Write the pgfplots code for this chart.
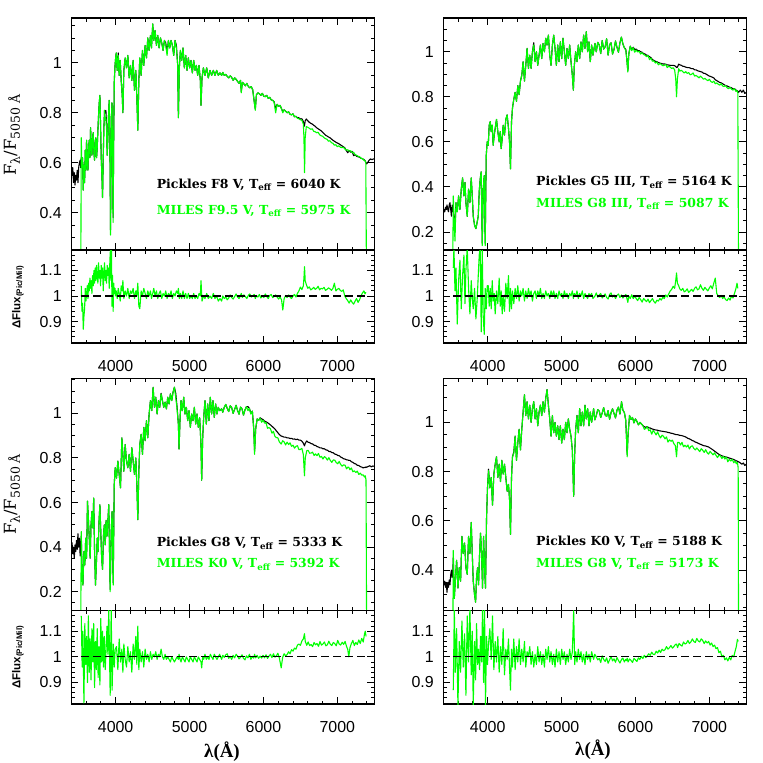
\documentclass[border=0pt]{standalone}
\usepackage{pgfplots}
\usepackage{pgfplotstable}
\pgfplotsset{compat=1.18}
\usepackage{fontspec}
\setmainfont{Liberation Sans}
\newfontfamily\serifb{Liberation Serif}
\newfontfamily\legf{DejaVu Serif}
\definecolor{mgreen}{RGB}{0,255,0}

\pgfplotstableread{
x g b r
3400 nan 0.59 nan
3410 nan 0.55 nan
3420 nan 0.58 nan
3430 nan 0.52 nan
3440 nan 0.56 nan
3450 nan 0.51 nan
3460 nan 0.55 nan
3470 nan 0.53 nan
3480 nan 0.57 nan
3490 nan 0.52 nan
3500 nan 0.58 nan
3510 nan 0.60 nan
3520 nan 0.61 nan
3528 0.10 0.58 nan
3535 0.70 0.62 1.04
3544 0.58 0.58 0.94
3553 0.62 0.62 0.97
3562 0.49 0.49 0.87
3571 0.59 0.59 0.92
3580 0.52 0.52 0.95
3589 0.65 0.65 1.03
3598 0.57 0.57 0.98
3607 0.69 0.69 1.01
3616 0.60 0.60 1.04
3625 0.57 0.57 0.99
3634 0.66 0.66 1.05
3643 0.69 0.69 1.02
3652 0.62 0.62 1.07
3661 0.74 0.74 1.03
3670 0.66 0.66 1.06
3679 0.63 0.63 1.01
3688 0.70 0.70 1.08
3697 0.72 0.72 1.04
3706 0.64 0.64 1.10
3715 0.61 0.61 1.05
3724 0.68 0.68 1.11
3733 0.70 0.70 1.06
3742 0.62 0.62 1.12
3751 0.66 0.66 1.08
3760 0.73 0.73 1.05
3769 0.79 0.79 1.13
3778 0.84 0.84 1.07
3787 0.87 0.87 1.10
3796 0.75 0.75 1.04
3805 0.62 0.62 1.12
3814 0.55 0.55 1.07
3823 0.46 0.46 1.11
3832 0.62 0.62 1.02
3841 0.74 0.74 1.09
3850 0.81 0.81 1.13
3859 0.77 0.80 1.06
3868 0.78 0.81 1.10
3877 0.73 0.75 1.05
3886 0.63 0.63 1.12
3895 0.70 0.70 1.08
3904 0.79 0.79 1.11
3913 0.85 0.85 1.03
3922 0.70 0.70 1.14
3931 0.31 0.33 1.19
3938 0.60 0.60 1.06
3944 0.78 0.78 1.19
3950 0.84 0.84 0.96
3958 0.63 0.63 1.08
3966 0.36 0.38 0.94
3974 0.70 0.70 1.05
3982 0.93 0.93 1.01
3992 0.99 0.99 1.03
4000 1.02 1.02 1.00
4008 1.04 1.04 1.02
4021 0.97 0.97 0.99
4035 1.03 1.04 1.03
4048 0.95 0.95 1.01
4062 1.01 1.01 0.98
4075 0.93 0.93 1.04
4089 0.87 0.87 1.02
4098 0.80 0.80 1.06
4111 0.97 0.97 0.99
4129 1.02 1.02 1.02
4147 0.98 0.98 1.00
4165 1.03 1.03 1.03
4183 0.94 0.94 0.99
4201 0.99 0.99 1.02
4219 0.93 0.93 1.01
4237 1.01 1.01 1.03
4255 0.89 0.89 0.99
4273 0.97 0.97 1.02
4287 0.86 0.86 1.00
4300 0.73 0.73 1.05
4314 0.93 0.93 0.96
4327 1.02 1.02 0.95
4345 0.95 0.95 1.02
4363 1.05 1.05 1.00
4381 0.99 0.99 1.03
4399 1.07 1.07 1.01
4417 1.02 1.02 0.99
4435 1.10 1.10 1.02
4453 1.05 1.05 1.00
4471 1.11 1.11 1.02
4485 1.06 1.06 0.99
4502 1.156 1.156 1.01
4516 1.09 1.09 1.03
4534 1.13 1.13 1.00
4552 1.07 1.07 1.02
4570 1.11 1.11 0.99
4588 1.06 1.06 1.01
4606 1.10 1.10 1.02
4624 1.08 1.08 0.99
4642 1.05 1.05 1.01
4660 1.09 1.09 1.00
4678 1.07 1.08 1.02
4696 1.03 1.04 0.99
4714 1.09 1.09 1.01
4732 1.06 1.06 1.00
4750 1.09 1.09 1.02
4768 1.07 1.07 0.99
4786 1.03 1.03 1.01
4804 1.09 1.09 1.00
4822 1.06 1.07 1.02
4840 0.99 0.99 1.01
4849 0.78 0.78 1.03
4862 0.98 0.98 0.99
4876 1.05 1.05 1.01
4894 1.01 1.01 0.99
4912 1.06 1.06 1.02
4930 0.98 0.98 0.99
4948 1.03 1.03 1.01
4966 0.97 0.97 0.99
4984 1.02 1.02 1.01
5002 0.98 0.98 0.99
5020 1.01 1.01 1.00
5038 0.96 0.96 0.99
5056 1.01 1.01 1.01
5074 0.97 0.97 0.99
5092 0.99 0.99 1.00
5110 0.95 0.95 0.99
5128 0.99 0.99 1.01
5146 0.93 0.93 1.00
5155 0.83 0.83 1.06
5169 0.94 0.94 0.98
5187 0.98 0.98 1.00
5209 0.95 0.95 0.99
5232 0.98 0.98 1.01
5254 0.94 0.94 0.99
5277 0.97 0.97 1.00
5299 0.95 0.95 0.99
5322 0.97 0.97 1.01
5344 0.95 0.95 0.99
5367 0.97 0.97 1.00
5389 0.95 0.95 0.98
5412 0.96 0.96 0.99
5434 0.95 0.95 0.98
5450 0.962 0.962 1.0
5470 0.950 0.950 0.99
5490 0.954 0.954 0.996
5510 0.946 0.946 0.985
5530 0.940 0.940 0.992
5550 0.948 0.948 1.004
5570 0.942 0.942 0.994
5590 0.930 0.930 0.988
5610 0.940 0.940 0.998
5630 0.934 0.934 1.008
5650 0.926 0.926 0.996
5670 0.918 0.918 0.99
5690 0.930 0.930 1.002
5700 0.880 0.885 1.01
5715 0.922 0.922 0.994
5735 0.916 0.916 1.004
5755 0.908 0.908 0.998
5775 0.918 0.918 0.99
5795 0.906 0.906 1.002
5815 0.900 0.900 1.008
5835 0.905 0.905 0.996
5855 0.892 0.892 1.0
5875 0.845 0.845 1.006
5890 0.810 0.815 0.99
5905 0.872 0.872 1.002
5925 0.880 0.880 0.996
5945 0.876 0.876 1.006
5965 0.870 0.870 0.992
5985 0.878 0.878 1.0
6005 0.866 0.866 0.994
6025 0.864 0.866 1.008
6045 0.870 0.870 0.998
6065 0.858 0.858 0.99
6085 0.862 0.862 1.002
6105 0.852 0.852 1.006
6125 0.850 0.850 0.994
6145 0.842 0.844 0.998
6165 0.800 0.815 1.004
6185 0.834 0.834 0.996
6205 0.826 0.826 0.988
6225 0.830 0.830 0.996
6245 0.816 0.816 0.985
6262 0.800 0.805 0.945
6280 0.812 0.812 0.99
6300 0.806 0.806 1.002
6320 0.800 0.800 0.994
6340 0.804 0.804 1.004
6360 0.794 0.794 0.996
6380 0.792 0.792 0.99
6400 0.796 0.796 1.0
6420 0.784 0.784 1.006
6440 0.786 0.786 0.996
6460 0.778 0.780 1.01
6480 0.776 0.780 1.02
6500 0.772 0.775 1.035
6520 0.770 0.776 1.025
6540 0.755 0.765 1.04
6548 0.700 0.745 1.07
6556 0.560 0.750 1.115
6565 0.700 0.768 1.06
6580 0.745 0.775 1.045
6600 0.742 0.768 1.03
6620 0.738 0.762 1.036
6640 0.734 0.758 1.024
6660 0.736 0.755 1.028
6680 0.726 0.750 1.034
6700 0.724 0.746 1.026
6720 0.720 0.740 1.03
6740 0.722 0.736 1.038
6760 0.712 0.732 1.024
6780 0.708 0.728 1.03
6800 0.706 0.722 1.028
6820 0.700 0.716 1.034
6840 0.696 0.710 1.022
6860 0.694 0.707 1.026
6880 0.686 0.703 1.032
6900 0.688 0.700 1.028
6920 0.680 0.695 1.022
6940 0.678 0.690 1.03
6960 0.670 0.686 1.05
6980 0.672 0.682 1.02
7000 0.664 0.679 1.026
7020 0.668 0.676 1.03
7040 0.662 0.672 1.022
7060 0.660 0.668 1.018
7080 0.662 0.664 1.024
7100 0.656 0.660 1.00
7120 0.650 0.650 0.99
7140 0.652 0.640 0.982
7160 0.646 0.648 0.972
7180 0.648 0.642 0.985
7200 0.640 0.645 0.975
7220 0.642 0.628 0.968
7240 0.632 0.632 0.98
7260 0.630 0.626 0.99
7280 0.626 0.624 0.975
7300 0.624 0.622 0.985
7320 0.618 0.618 1.0
7340 0.616 0.616 1.012
7360 0.610 0.612 1.02
7375 0.608 0.608 1.008
7385 0.600 0.602 1.015
7395 0.10 0.595 nan
7410 nan 0.60 nan
7430 nan 0.61 nan
7450 nan 0.615 nan
7470 nan 0.612 nan
7490 nan 0.615 nan
7500 nan 0.615 nan
}\tA

\pgfplotstableread{
x g b r
3400 nan 0.28 nan
3410 nan 0.30 nan
3420 nan 0.29 nan
3430 nan 0.31 nan
3440 nan 0.30 nan
3450 nan 0.32 nan
3460 nan 0.30 nan
3470 nan 0.29 nan
3480 nan 0.32 nan
3490 nan 0.33 nan
3500 nan 0.30 nan
3510 nan 0.27 nan
3520 nan 0.32 nan
3528 0.05 0.29 nan
3535 0.36 0.30 1.11
3544 0.27 0.27 1.19
3558 0.16 0.20 1.02
3571 0.33 0.33 1.11
3589 0.29 0.29 0.89
3607 0.36 0.36 1.06
3625 0.30 0.30 1.14
3643 0.39 0.39 0.95
3661 0.44 0.44 1.08
3679 0.36 0.36 1.16
3693 0.42 0.42 0.97
3706 0.33 0.33 1.10
3724 0.27 0.27 1.19
3742 0.39 0.39 1.03
3760 0.33 0.33 0.93
3778 0.44 0.44 1.06
3792 0.36 0.36 0.99
3805 0.27 0.27 0.95
3823 0.23 0.23 1.03
3841 0.215 0.215 0.91
3859 0.245 0.245 0.99
3873 0.27 0.27 1.08
3886 0.38 0.38 1.16
3900 0.437 0.437 1.19
3913 0.467 0.467 0.86
3927 0.14 0.15 1.19
3940 0.39 0.39 0.92
3954 0.45 0.45 0.85
3967 0.14 0.15 1.03
3981 0.54 0.54 0.95
3994 0.60 0.60 1.04
4008 0.585 0.585 1.04
4021 0.674 0.674 0.96
4035 0.69 0.69 1.03
4048 0.645 0.645 0.95
4062 0.674 0.674 1.06
4075 0.585 0.585 0.98
4089 0.63 0.63 1.01
4102 0.66 0.66 0.93
4120 0.70 0.70 1.02
4138 0.645 0.645 0.97
4156 0.60 0.60 1.07
4170 0.645 0.645 0.96
4183 0.57 0.57 1.02
4197 0.615 0.615 0.93
4210 0.674 0.674 1.00
4228 0.63 0.63 0.94
4246 0.70 0.70 1.05
4264 0.72 0.72 0.99
4282 0.66 0.66 1.08
4296 0.60 0.60 0.94
4309 0.48 0.48 1.03
4323 0.69 0.69 0.95
4336 0.75 0.75 1.02
4354 0.79 0.79 0.97
4372 0.82 0.82 1.03
4390 0.78 0.78 0.99
4408 0.85 0.85 1.04
4426 0.81 0.81 0.98
4444 0.87 0.87 1.02
4462 0.896 0.896 1.00
4480 0.956 0.956 1.03
4498 0.87 0.87 0.98
4516 0.94 0.94 1.02
4534 1.015 1.015 0.99
4552 0.926 0.926 1.03
4570 0.985 0.985 1.00
4588 0.926 0.926 1.02
4606 1.00 1.00 0.98
4624 1.03 1.04 1.01
4642 0.956 0.956 1.02
4660 1.00 1.00 0.99
4678 0.94 0.94 1.02
4696 0.985 0.985 1.00
4714 1.03 1.03 1.03
4732 0.97 0.97 0.99
4750 1.037 1.037 1.01
4768 1.00 1.00 0.99
4786 1.06 1.06 1.02
4804 1.03 1.03 1.00
4822 1.074 1.074 1.01
4840 0.985 0.985 0.99
4858 0.94 0.94 1.02
4876 1.03 1.03 1.00
4894 1.074 1.074 1.02
4912 1.015 1.015 0.99
4930 0.94 0.94 1.01
4948 1.03 1.03 0.99
4966 0.956 0.956 1.02
4984 1.044 1.044 1.00
5002 0.97 0.97 1.01
5020 1.06 1.06 0.99
5038 1.00 1.00 1.02
5056 0.94 0.94 1.00
5074 1.015 1.015 1.01
5092 0.97 0.97 0.99
5110 1.03 1.03 1.01
5128 0.956 0.956 1.00
5146 0.896 0.896 1.02
5160 0.83 0.83 0.99
5173 0.94 0.94 1.01
5191 1.00 1.00 1.00
5209 0.956 0.956 1.02
5227 1.03 1.03 0.99
5245 0.97 0.97 1.01
5263 1.044 1.044 1.00
5281 1.00 1.00 1.02
5299 1.074 1.074 0.99
5317 1.015 1.015 1.01
5335 1.089 1.089 1.00
5353 1.00 1.00 0.99
5371 1.044 1.044 1.01
5389 0.956 0.956 1.00
5407 1.03 1.03 1.01
5425 0.985 0.985 0.99
5452 1.037 1.037 1.00
5470 1.000 1.000 1.012
5490 1.042 1.042 0.995
5510 1.030 1.030 1.004
5530 0.992 0.992 1.010
5550 1.050 1.050 0.992
5570 1.012 1.012 1.0
5590 1.022 1.022 1.008
5610 1.058 1.058 0.994
5630 0.985 0.985 0.988
5650 1.032 1.032 1.006
5670 1.040 1.040 1.012
5690 0.990 0.990 0.996
5710 1.010 1.010 1.004
5730 1.048 1.048 0.99
5750 1.020 1.020 1.002
5770 0.998 0.998 1.008
5790 1.040 1.040 0.994
5810 1.065 1.065 1.004
5830 1.035 1.035 0.992
5850 1.018 1.018 1.0
5870 1.005 1.010 1.006
5885 0.960 0.960 0.99
5897 0.910 0.915 0.975
5910 0.990 0.990 1.0
5930 1.025 1.025 0.99
5950 1.005 1.010 1.005
5970 1.018 1.020 0.99
5990 0.998 1.010 1.0
6010 1.008 1.012 0.99
6030 0.999 1.005 0.982
6050 1.003 1.005 0.994
6070 0.990 1.000 0.986
6090 0.996 0.998 0.976
6110 0.988 0.992 0.99
6130 0.985 0.990 0.984
6150 0.978 0.985 0.978
6170 0.984 0.984 0.988
6190 0.965 0.978 0.974
6210 0.972 0.974 0.982
6230 0.958 0.965 0.99
6250 0.960 0.962 0.978
6270 0.950 0.958 0.972
6290 0.955 0.956 0.984
6310 0.942 0.952 0.98
6330 0.948 0.950 0.99
6350 0.944 0.948 0.984
6370 0.938 0.946 0.995
6390 0.940 0.946 0.99
6410 0.944 0.945 1.004
6430 0.930 0.942 0.996
6450 0.936 0.941 1.008
6470 0.932 0.940 1.02
6490 0.926 0.940 1.026
6510 0.929 0.940 1.038
6530 0.920 0.938 1.03
6545 0.880 0.935 1.06
6556 0.800 0.930 1.09
6568 0.880 0.932 1.05
6585 0.925 0.945 1.04
6600 0.914 0.942 1.028
6620 0.918 0.940 1.022
6640 0.912 0.936 1.03
6660 0.906 0.935 1.016
6680 0.912 0.932 1.02
6700 0.904 0.930 1.028
6720 0.908 0.930 1.014
6740 0.898 0.928 1.02
6760 0.900 0.925 1.026
6780 0.906 0.925 1.018
6800 0.892 0.920 1.03
6820 0.895 0.920 1.036
6840 0.890 0.916 1.024
6860 0.884 0.914 1.028
6880 0.892 0.912 1.044
6900 0.886 0.910 1.03
6920 0.878 0.905 1.022
6940 0.882 0.904 1.034
6960 0.876 0.900 1.026
6980 0.872 0.896 1.02
7000 0.878 0.892 1.032
7020 0.868 0.890 1.04
7040 0.864 0.887 1.028
7060 0.870 0.884 1.05
7080 0.858 0.876 1.07
7100 0.862 0.872 1.01
7120 0.856 0.868 1.0
7140 0.852 0.864 0.994
7160 0.858 0.862 1.002
7180 0.848 0.858 0.99
7200 0.846 0.854 0.996
7220 0.850 0.850 0.986
7240 0.840 0.848 0.982
7260 0.836 0.845 0.992
7280 0.842 0.842 0.984
7300 0.834 0.840 1.0
7320 0.830 0.835 0.992
7340 0.836 0.836 1.01
7360 0.824 0.830 1.03
7375 0.828 0.828 1.05
7385 0.818 0.825 1.03
7395 0.05 0.82 nan
7420 nan 0.83 nan
7440 nan 0.82 nan
7460 nan 0.83 nan
7480 nan 0.815 nan
7500 nan 0.82 nan
}\tB

\pgfplotstableread{
x g b r
3400 nan 0.40 nan
3410 nan 0.42 nan
3420 nan 0.37 nan
3430 nan 0.40 nan
3440 nan 0.35 nan
3450 nan 0.41 nan
3460 nan 0.38 nan
3470 nan 0.43 nan
3480 nan 0.39 nan
3490 nan 0.46 nan
3500 nan 0.40 nan
3510 nan 0.44 nan
3520 nan 0.36 nan
3528 0.05 0.40 nan
3535 0.47 0.45 1.16
3547 0.26 0.26 0.96
3557 0.23 0.23 1.10
3571 0.38 0.38 0.82
3583 0.32 0.32 1.13
3595 0.44 0.44 0.97
3607 0.35 0.35 1.08
3619 0.606 0.606 0.90
3631 0.53 0.53 1.16
3643 0.44 0.44 0.94
3655 0.35 0.35 1.07
3667 0.50 0.50 0.91
3679 0.56 0.56 1.11
3691 0.486 0.486 0.98
3703 0.62 0.62 1.13
3715 0.38 0.38 0.88
3727 0.23 0.23 1.06
3739 0.32 0.32 0.95
3751 0.44 0.44 1.11
3763 0.38 0.38 0.92
3775 0.516 0.516 1.04
3787 0.59 0.59 0.89
3799 0.47 0.47 1.15
3811 0.35 0.35 0.98
3823 0.30 0.30 1.10
3835 0.45 0.45 0.96
3847 0.50 0.50 1.08
3859 0.41 0.41 0.95
3871 0.52 0.52 1.03
3883 0.45 0.45 1.12
3895 0.516 0.516 1.01
3907 0.59 0.59 1.19
3926 0.20 0.21 0.85
3940 0.47 0.47 1.19
3952 0.56 0.56 0.87
3967 0.23 0.24 1.05
3981 0.68 0.68 0.96
3994 0.756 0.756 1.03
4012 0.71 0.71 1.04
4030 0.786 0.786 0.95
4048 0.726 0.726 1.07
4066 0.666 0.666 0.98
4084 0.89 0.89 1.03
4098 0.816 0.816 0.94
4111 0.74 0.74 1.05
4129 0.86 0.86 0.99
4147 0.786 0.786 0.96
4165 0.756 0.756 1.04
4183 0.816 0.816 0.98
4201 0.74 0.74 1.02
4219 0.846 0.846 0.94
4237 0.786 0.786 1.05
4255 0.726 0.726 0.99
4273 0.80 0.80 1.08
4287 0.68 0.68 0.97
4300 0.523 0.523 1.12
4314 0.74 0.74 0.95
4327 0.86 0.86 1.03
4345 0.906 0.906 0.98
4363 0.816 0.816 1.02
4381 0.937 0.937 0.96
4399 0.877 0.877 1.03
4417 0.967 0.967 0.99
4435 0.89 0.89 1.01
4453 0.997 0.997 0.98
4471 1.057 1.057 1.02
4489 1.012 1.012 0.99
4507 1.117 1.117 1.01
4525 1.027 1.027 1.00
4543 1.072 1.072 1.02
4561 0.997 0.997 0.99
4579 1.057 1.057 1.01
4597 1.027 1.027 1.00
4615 1.087 1.09 1.03
4633 1.057 1.057 1.00
4651 1.027 1.027 0.99
4669 1.05 1.05 1.01
4687 1.02 1.02 0.99
4705 1.072 1.072 1.00
4723 1.042 1.042 0.99
4741 1.087 1.087 0.98
4759 1.057 1.057 1.00
4777 1.095 1.095 0.99
4795 1.117 1.117 0.98
4813 1.072 1.09 0.99
4831 1.02 1.03 1.00
4849 0.95 0.95 0.99
4858 0.84 0.84 1.01
4872 0.98 0.98 0.99
4885 1.057 1.057 0.98
4903 1.012 1.012 1.00
4921 1.072 1.072 0.99
4939 0.997 0.997 0.98
4957 1.027 1.027 1.00
4975 0.967 0.967 0.99
4993 1.012 1.012 0.98
5011 0.937 0.937 1.00
5029 0.997 0.997 0.99
5047 0.967 0.967 0.98
5065 1.027 1.027 1.00
5083 0.952 0.952 0.99
5101 0.997 0.997 0.98
5119 0.937 0.937 1.00
5137 0.98 0.98 0.99
5155 0.86 0.86 0.98
5164 0.70 0.70 0.957
5178 0.89 0.89 1.00
5191 0.98 0.98 0.99
5209 1.057 1.057 1.01
5227 0.952 0.952 0.99
5245 1.042 1.042 1.00
5263 0.967 0.967 0.99
5281 1.072 1.072 1.01
5299 0.997 0.997 1.00
5317 1.057 1.057 0.99
5335 0.982 0.982 1.01
5353 1.042 1.042 1.00
5371 0.997 0.997 0.99
5389 1.027 1.027 1.00
5407 1.012 1.012 1.01
5434 1.02 1.02 0.99
5450 1.005 1.005 1.006
5470 1.027 1.027 0.998
5490 1.040 1.040 1.008
5510 1.022 1.022 1.012
5530 1.008 1.008 0.994
5550 1.034 1.034 1.002
5570 1.026 1.026 0.99
5590 1.000 1.000 1.006
5610 1.018 1.018 0.996
5630 1.036 1.036 1.01
5650 1.012 1.012 1.003
5670 0.996 0.996 0.992
5690 1.028 1.028 0.999
5710 1.020 1.020 1.008
5730 0.992 0.992 0.994
5750 1.015 1.015 0.988
5770 1.030 1.030 1.004
5790 1.012 1.030 0.996
5810 1.022 1.022 1.01
5830 0.996 1.000 0.99
5850 1.010 1.010 1.002
5868 0.930 0.935 0.995
5880 0.816 0.830 1.01
5895 0.930 0.930 0.996
5915 0.975 0.975 1.006
5935 0.968 0.968 0.994
5955 0.978 0.980 1.003
5975 0.960 0.975 0.995
5995 0.970 0.972 1.006
6015 0.956 0.965 0.996
6035 0.958 0.962 1.008
6055 0.933 0.958 0.994
6075 0.936 0.953 1.003
6095 0.931 0.948 1.010
6115 0.911 0.942 0.997
6135 0.919 0.936 1.012
6155 0.897 0.930 0.999
6175 0.891 0.921 1.004
6195 0.890 0.913 1.014
6215 0.872 0.905 0.996
6240 0.862 0.898 0.957
6260 0.877 0.896 0.998
6280 0.872 0.893 1.012
6300 0.858 0.893 1.004
6320 0.871 0.890 1.009
6340 0.860 0.890 1.020
6360 0.868 0.887 1.012
6380 0.852 0.888 1.028
6400 0.857 0.884 1.022
6420 0.844 0.885 1.034
6440 0.852 0.882 1.030
6460 0.855 0.884 1.046
6480 0.837 0.880 1.05
6500 0.838 0.880 1.045
6520 0.843 0.875 1.062
6540 0.815 0.866 1.07
6555 0.720 0.854 1.09
6566 0.800 0.866 1.06
6586 0.832 0.876 1.045
6605 0.834 0.870 1.058
6625 0.821 0.869 1.044
6645 0.822 0.864 1.048
6665 0.826 0.863 1.040
6685 0.811 0.857 1.056
6705 0.818 0.856 1.047
6725 0.810 0.851 1.052
6745 0.820 0.849 1.041
6765 0.803 0.845 1.060
6785 0.807 0.845 1.046
6805 0.795 0.841 1.050
6825 0.806 0.841 1.058
6845 0.801 0.836 1.043
6865 0.790 0.835 1.047
6885 0.801 0.829 1.061
6905 0.789 0.829 1.049
6925 0.780 0.824 1.044
6945 0.791 0.823 1.056
6965 0.790 0.817 1.052
6985 0.779 0.816 1.043
7005 0.774 0.811 1.064
7025 0.784 0.810 1.050
7045 0.771 0.804 1.046
7065 0.763 0.801 1.057
7085 0.769 0.796 1.049
7105 0.767 0.795 1.060
7125 0.751 0.791 1.040
7140 0.758 0.791 1.03
7155 0.758 0.789 1.00
7170 0.747 0.789 1.035
7190 0.755 0.783 1.052
7210 0.738 0.780 1.064
7230 0.742 0.775 1.044
7250 0.735 0.773 1.056
7270 0.741 0.767 1.048
7290 0.726 0.766 1.066
7310 0.732 0.761 1.052
7330 0.723 0.759 1.072
7350 0.724 0.755 1.058
7368 0.714 0.758 1.09
7378 0.720 0.757 1.10
7388 0.700 0.760 1.08
7396 0.05 0.758 nan
7420 nan 0.762 nan
7440 nan 0.765 nan
7460 nan 0.76 nan
7480 nan 0.764 nan
7500 nan 0.762 nan
}\tC

\pgfplotstableread{
x g b r
3400 nan 0.36 nan
3410 nan 0.34 nan
3420 nan 0.355 nan
3430 nan 0.33 nan
3440 nan 0.35 nan
3450 nan 0.31 nan
3460 nan 0.35 nan
3470 nan 0.33 nan
3480 nan 0.36 nan
3490 nan 0.34 nan
3500 nan 0.38 nan
3510 nan 0.40 nan
3520 nan 0.37 nan
3528 0.05 0.39 nan
3535 0.48 0.45 0.87
3549 0.285 0.285 1.19
3562 0.355 0.355 0.94
3580 0.44 0.44 1.11
3598 0.327 0.327 0.81
3616 0.41 0.41 1.06
3634 0.355 0.355 0.94
3652 0.537 0.537 1.14
3670 0.467 0.467 0.96
3688 0.51 0.51 1.09
3706 0.41 0.41 0.85
3724 0.383 0.383 1.16
3742 0.537 0.537 0.98
3760 0.467 0.467 1.19
3778 0.594 0.594 0.93
3792 0.467 0.467 1.10
3805 0.355 0.355 0.81
3823 0.30 0.30 1.06
3837 0.27 0.27 0.91
3850 0.37 0.37 1.13
3864 0.41 0.41 0.97
3877 0.34 0.34 1.03
3891 0.467 0.467 0.95
3904 0.55 0.55 1.08
3918 0.467 0.467 0.98
3931 0.327 0.327 1.19
3945 0.537 0.537 0.90
3958 0.41 0.41 1.19
3971 0.327 0.327 0.81
3985 0.61 0.61 1.08
3998 0.734 0.734 0.97
4012 0.804 0.81 1.05
4030 0.734 0.734 1.11
4048 0.776 0.776 0.99
4066 0.664 0.664 1.16
4084 0.79 0.79 0.95
4102 0.83 0.83 1.06
4120 0.86 0.86 0.98
4138 0.776 0.776 1.08
4156 0.83 0.83 0.94
4174 0.76 0.76 1.04
4192 0.846 0.846 0.97
4210 0.79 0.79 1.11
4228 0.83 0.83 0.93
4246 0.776 0.776 1.03
4264 0.72 0.72 0.99
4282 0.748 0.748 1.07
4296 0.69 0.69 0.96
4309 0.545 0.545 0.87
4323 0.776 0.776 1.03
4336 0.86 0.86 0.96
4354 0.874 0.88 1.07
4372 0.944 0.944 0.95
4390 0.846 0.846 1.04
4408 0.916 0.916 0.98
4426 0.972 0.972 1.07
4444 0.888 0.888 0.97
4462 0.972 0.972 1.03
4480 1.042 1.042 0.98
4498 1.112 1.112 1.06
4516 1.028 1.028 0.96
4534 1.084 1.084 1.02
4552 1.014 1.014 1.00
4570 1.07 1.07 1.04
4588 1.00 1.00 0.97
4606 1.056 1.056 1.02
4624 1.084 1.084 0.96
4642 1.014 1.014 1.01
4660 1.056 1.056 0.97
4678 0.986 0.986 1.04
4696 1.042 1.042 0.98
4714 1.07 1.07 1.02
4732 1.028 1.028 0.97
4750 1.084 1.084 1.01
4768 1.042 1.042 0.96
4786 1.098 1.098 1.03
4804 1.133 1.133 0.99
4822 1.07 1.07 1.04
4840 1.014 1.014 0.98
4858 0.944 0.944 1.02
4876 1.028 1.028 0.97
4894 0.958 0.958 1.01
4912 1.00 1.00 0.96
4930 0.944 0.944 1.03
4948 0.986 0.986 0.98
4966 0.93 0.93 1.02
4984 0.986 0.986 0.97
5002 0.916 0.916 1.03
5020 0.972 0.972 0.99
5038 0.93 0.93 1.02
5056 1.00 1.00 0.97
5074 0.958 0.958 1.01
5092 1.014 1.014 0.98
5110 0.972 0.972 1.03
5128 0.944 0.944 0.99
5146 0.888 0.888 1.02
5164 0.70 0.70 1.18
5178 0.874 0.874 0.97
5191 0.972 0.972 1.02
5209 1.028 1.028 0.98
5227 0.958 0.958 1.03
5245 1.056 1.056 0.99
5263 0.986 0.986 1.02
5281 1.042 1.042 0.98
5299 0.986 0.986 1.01
5317 1.07 1.07 0.97
5335 1.014 1.014 1.02
5353 1.056 1.056 0.99
5371 0.986 0.986 1.01
5389 1.042 1.042 0.98
5407 1.00 1.00 1.02
5434 1.056 1.056 0.99
5450 1.010 1.010 1.01
5470 1.028 1.028 1.000
5490 1.052 1.052 0.988
5510 1.046 1.046 0.994
5530 1.020 1.020 0.978
5550 1.038 1.038 1.004
5570 1.060 1.060 0.990
5590 1.030 1.030 0.982
5610 1.024 1.024 0.996
5630 1.048 1.048 0.975
5650 1.012 1.012 0.988
5670 1.040 1.040 1.002
5690 1.055 1.055 0.984
5710 1.036 1.036 0.992
5730 1.018 1.018 0.979
5750 1.050 1.050 0.997
5770 1.062 1.062 0.986
5790 1.034 1.034 0.976
5812 1.084 1.084 0.99
5830 1.050 1.050 0.995
5850 1.040 1.040 0.98
5868 1.010 1.010 0.99
5880 0.930 0.930 0.985
5888 0.860 0.870 0.995
5900 0.950 0.950 0.98
5920 1.028 1.028 0.992
5940 1.012 1.012 0.986
5960 1.020 1.020 0.978
5980 0.998 0.998 0.994
6000 1.014 1.014 0.988
6020 1.004 1.004 0.982
6040 0.990 0.990 0.996
6060 1.000 1.000 0.99
6080 0.994 0.994 1.002
6100 0.987 0.987 0.993
6120 0.972 0.982 1.006
6140 0.975 0.980 0.997
6160 0.983 0.983 1.004
6180 0.966 0.978 1.012
6200 0.970 0.977 1.006
6220 0.952 0.974 1.018
6240 0.967 0.972 1.010
6260 0.959 0.970 1.009
6280 0.949 0.969 1.022
6300 0.962 0.968 1.015
6320 0.946 0.966 1.026
6340 0.937 0.965 1.017
6360 0.948 0.964 1.030
6380 0.943 0.963 1.024
6400 0.933 0.962 1.028
6420 0.941 0.961 1.040
6440 0.920 0.959 1.030
6460 0.929 0.958 1.036
6480 0.923 0.956 1.044
6500 0.928 0.955 1.034
6520 0.913 0.953 1.040
6540 0.906 0.951 1.048
6556 0.860 0.950 1.05
6570 0.919 0.950 1.036
6590 0.919 0.948 1.052
6610 0.908 0.947 1.046
6630 0.919 0.946 1.042
6650 0.901 0.944 1.058
6670 0.907 0.942 1.050
6690 0.900 0.939 1.053
6710 0.908 0.935 1.064
6730 0.892 0.933 1.052
6750 0.902 0.930 1.058
6770 0.905 0.926 1.070
6790 0.894 0.924 1.060
6810 0.888 0.920 1.056
6830 0.896 0.918 1.072
6850 0.889 0.915 1.062
6870 0.881 0.912 1.058
6890 0.893 0.910 1.070
6910 0.887 0.907 1.064
6930 0.878 0.905 1.052
6950 0.889 0.904 1.062
6970 0.877 0.902 1.054
6990 0.871 0.900 1.060
7010 0.882 0.896 1.046
7030 0.875 0.892 1.054
7050 0.868 0.888 1.040
7070 0.876 0.883 1.046
7090 0.866 0.879 1.032
7110 0.857 0.874 1.036
7130 0.867 0.870 1.016
7150 0.864 0.867 1.022
7170 0.853 0.864 1.000
7190 0.862 0.862 1.006
7210 0.851 0.860 0.988
7230 0.859 0.859 0.996
7250 0.840 0.857 0.984
7270 0.850 0.855 0.998
7290 0.843 0.853 0.988
7310 0.850 0.851 1.006
7330 0.836 0.849 1.000
7350 0.843 0.846 1.024
7365 0.832 0.844 1.04
7380 0.837 0.842 1.068
7390 0.815 0.840 1.06
7396 0.05 0.84 nan
7420 nan 0.835 nan
7440 nan 0.83 nan
7460 nan 0.835 nan
7480 nan 0.825 nan
7500 nan 0.83 nan
}\tD

\pgfplotsset{
  spec/.style={scale only axis, width=303bp, xmin=3400, xmax=7500,
    xtick={4000,5000,6000,7000}, minor xtick={3400,3600,...,7400},
    xtick pos=both, ytick pos=both, xticklabel pos=lower, yticklabel pos=left,
    tick align=inside, major tick length=7bp, minor tick length=3.5bp,
    axis line style={line width=1.2bp}, tick style={line width=0.9bp, black},
    unbounded coords=jump,
    tick label style={font=\fontsize{16}{16}\selectfont},
    /pgf/number format/assume math mode=true,
    /pgf/number format/1000 sep={},
    yticklabel style={xshift=-6bp}, xticklabel style={yshift=-14bp}},
  mainax/.style={spec, xticklabels={}, ytick={0.2,0.4,0.6,0.8,1},
    minor ytick={0.1,0.15,0.2,0.25,0.3,0.35,0.4,0.45,0.5,0.55,0.6,0.65,0.7,0.75,0.8,0.85,0.9,0.95,1,1.05,1.1,1.15}},
  resax/.style={spec, ymin=0.816, ymax=1.18, ytick={0.9,1,1.1},
    minor ytick={0.82,0.84,0.86,0.88,0.9,0.92,0.94,0.96,0.98,1,1.02,1.04,1.06,1.08,1.1,1.12,1.14,1.16,1.18}},
  pick/.style={black, line width=1.1bp, line join=round},
  mil/.style={mgreen, line width=1.1bp, line join=round},
  unity/.style={black, line width=1.2bp, dash pattern=on 8bp off 4bp},
}

\newcommand\legfont{\legf\bfseries\fontsize{12.5}{12.5}\selectfont}
\newcommand\ylab{\legf\fontsize{16.5}{16.5}\selectfont F\raisebox{-4bp}{\fontsize{12.5}{12.5}\selectfont λ}/F\raisebox{-4bp}{\fontsize{12.5}{12.5}\selectfont 5050 Å}}
\newcommand\rlab{\bfseries\fontsize{11.5}{11.5}\selectfont ΔFlux\textsubscript{(Pic/Mil)}}

\begin{document}
\begin{tikzpicture}
\useasboundingbox (0,0) rectangle (763bp,-763bp);

% ---- panel 1 ----
\begin{axis}[mainax, at={(71.3bp,-18bp)}, anchor=north west, height=232bp, ymin=0.25, ymax=1.18]
\addplot[pick] table[x=x,y=b]{\tA};
\addplot[mil] table[x=x,y=g]{\tA};
\end{axis}
\begin{axis}[resax, at={(71.3bp,-250bp)}, anchor=north west, height=93bp]
\addplot[mil] table[x=x,y=r]{\tA};
\addplot[unity] coordinates {(3535,1) (7390,1)};
\end{axis}

% ---- panel 2 ----
\begin{axis}[mainax, at={(443.3bp,-18bp)}, anchor=north west, height=232bp, ymin=0.12, ymax=1.15]
\addplot[pick] table[x=x,y=b]{\tB};
\addplot[mil] table[x=x,y=g]{\tB};
\end{axis}
\begin{axis}[resax, at={(443.3bp,-250bp)}, anchor=north west, height=93bp]
\addplot[mil] table[x=x,y=r]{\tB};
\addplot[unity] coordinates {(3535,1) (7390,1)};
\end{axis}

% ---- panel 3 ----
\begin{axis}[mainax, at={(71.3bp,-378.3bp)}, anchor=north west, height=232.4bp, ymin=0.115, ymax=1.157]
\addplot[pick] table[x=x,y=b]{\tC};
\addplot[mil] table[x=x,y=g]{\tC};
\end{axis}
\begin{axis}[resax, at={(71.3bp,-610.7bp)}, anchor=north west, height=93.3bp]
\addplot[mil] table[x=x,y=r]{\tC};
\addplot[unity] coordinates {(3535,1) (7390,1)};
\end{axis}

% ---- panel 4 ----
\begin{axis}[mainax, at={(443.3bp,-378.3bp)}, anchor=north west, height=232.4bp, ymin=0.235, ymax=1.179]
\addplot[pick] table[x=x,y=b]{\tD};
\addplot[mil] table[x=x,y=g]{\tD};
\end{axis}
\begin{axis}[resax, at={(443.3bp,-610.7bp)}, anchor=north west, height=93.3bp]
\addplot[mil] table[x=x,y=r]{\tD};
\addplot[unity] coordinates {(3535,1) (7390,1)};
\end{axis}

% ---- legends ----
\node[anchor=base west, font=\legfont] at (153.3bp,-188.3bp) {Pickles F8 V, T\textsubscript{eff} = 6040 K};
\node[anchor=base west, font=\legfont, text=mgreen] at (153.3bp,-214bp) {MILES F9.5 V, T\textsubscript{eff} = 5975 K};
\node[anchor=base west, font=\legfont] at (532.7bp,-185.7bp) {Pickles G5 III, T\textsubscript{eff} = 5164 K};
\node[anchor=base west, font=\legfont, text=mgreen] at (532.7bp,-207.3bp) {MILES G8 III, T\textsubscript{eff} = 5087 K};
\node[anchor=base west, font=\legfont] at (153.3bp,-546.7bp) {Pickles G8 V, T\textsubscript{eff} = 5333 K};
\node[anchor=base west, font=\legfont, text=mgreen] at (153.3bp,-567.7bp) {MILES K0 V, T\textsubscript{eff} = 5392 K};
\node[anchor=base west, font=\legfont] at (532.7bp,-545.7bp) {Pickles K0 V, T\textsubscript{eff} = 5188 K};
\node[anchor=base west, font=\legfont, text=mgreen] at (532.7bp,-567.3bp) {MILES G8 V, T\textsubscript{eff} = 5173 K};

% ---- axis titles ----
\node[rotate=90] at (12bp,-135bp) {\ylab};
\node[rotate=90] at (12bp,-494.5bp) {\ylab};
\node[rotate=90] at (18bp,-297bp) {\rlab};
\node[rotate=90] at (18bp,-657bp) {\rlab};
\node[font=\serifb\bfseries\fontsize{19}{19}\selectfont] at (222bp,-752bp) {λ(Å)};
\node[font=\serifb\bfseries\fontsize{19}{19}\selectfont] at (593bp,-750bp) {λ(Å)};
\end{tikzpicture}
\end{document}
